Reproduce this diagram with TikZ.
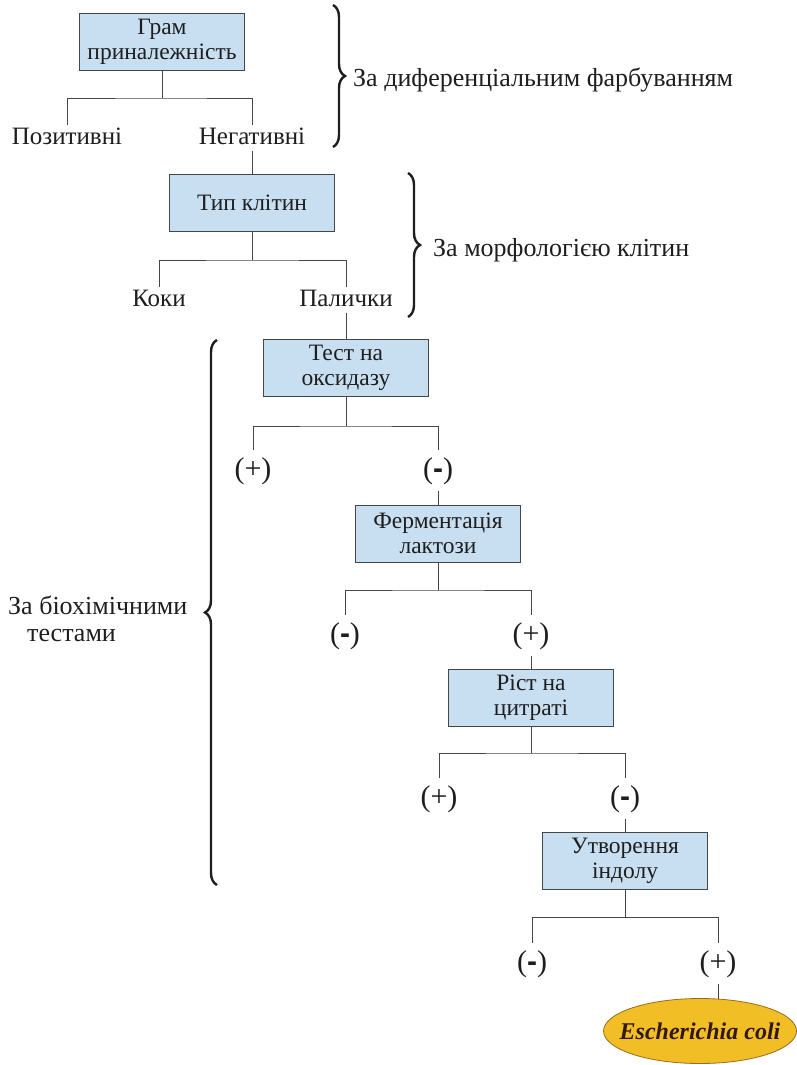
\documentclass[tikz,border=0pt]{standalone}
\usepackage{fontspec}
\setmainfont{Liberation Serif}
\newfontfamily\sgnfont{Liberation Sans}
\usetikzlibrary{shapes.geometric,decorations.pathreplacing}
\definecolor{boxfill}{RGB}{200,223,242}
\definecolor{boxline}{RGB}{70,70,70}
\definecolor{txt}{RGB}{30,30,30}
\definecolor{ecfill}{RGB}{242,190,38}
\definecolor{ecline}{RGB}{150,110,30}
\tikzset{
  stepbox/.style={draw=boxline, fill=boxfill, line width=0.9pt, minimum width=165pt, minimum height=57pt, inner sep=0pt, align=center, text=txt, font=\fontsize{23.5}{25}\selectfont},
  leaf/.style={anchor=north, inner xsep=1pt, inner ysep=1pt, text height=18pt, text depth=6pt, text=txt, font=\fontsize{25}{27}\selectfont},
  sgn/.style={anchor=north, inner xsep=1pt, inner ysep=7pt, text height=21pt, text depth=6pt, text=txt, font=\fontsize{30}{32}\selectfont},
  conn/.style={draw=boxline, line width=0.9pt},
  brc/.style={decorate, decoration={brace, amplitude=12pt}, line width=2.4pt, draw=txt},
  side/.style={text=txt, font=\fontsize{26}{27}\selectfont, inner sep=0pt},
}
\newcommand{\mn}{({\sgnfont\bfseries -})}
\begin{document}
\begin{tikzpicture}[x=1pt,y=-1pt]
\useasboundingbox (0,0) rectangle (797,1065);
% level 1
\node[stepbox] (b1) at (162,41.5) {Грам\\приналежність};
\coordinate (j1) at (162,98);
\node[leaf] (l1a) at (67,125) {Позитивні};
\node[leaf] (l1b) at (252,125) {Негативні};
\draw[conn] (b1.south) -- (j1);
\draw[conn] (l1a.north) |- (j1) -| (l1b.north);
% level 2
\node[stepbox] (b2) at (252,203) {Тип клітин};
\draw[conn] (l1b.south) -- (b2.north);
\coordinate (j2) at (252,260);
\node[leaf] (l2a) at (159,287) {Коки};
\node[leaf] (l2b) at (346,287) {Палички};
\draw[conn] (b2.south) -- (j2);
\draw[conn] (l2a.north) |- (j2) -| (l2b.north);
% level 3
\node[stepbox] (b3) at (346,368) {Тест на\\оксидазу};
\draw[conn] (l2b.south) -- (b3.north);
\coordinate (j3) at (346,426);
\node[sgn] (l3a) at (253,450) {(+)};
\node[sgn] (l3b) at (438,450) {\mn};
\draw[conn] (b3.south) -- (j3);
\draw[conn] (l3a.north) |- (j3) -| (l3b.north);
% level 4
\node[stepbox] (b4) at (438,533.5) {Ферментація\\лактози};
\draw[conn] (l3b.south) -- (b4.north);
\coordinate (j4) at (438,590);
\node[sgn] (l4a) at (345,615) {\mn};
\node[sgn] (l4b) at (531,615) {(+)};
\draw[conn] (b4.south) -- (j4);
\draw[conn] (l4a.north) |- (j4) -| (l4b.north);
% level 5
\node[stepbox] (b5) at (531,698) {Ріст на\\цитраті};
\draw[conn] (l4b.south) -- (b5.north);
\coordinate (j5) at (531,753);
\node[sgn] (l5a) at (439,778) {(+)};
\node[sgn] (l5b) at (625,778) {\mn};
\draw[conn] (b5.south) -- (j5);
\draw[conn] (l5a.north) |- (j5) -| (l5b.north);
% level 6
\node[stepbox] (b6) at (625,860.5) {Утворення\\індолу};
\draw[conn] (l5b.south) -- (b6.north);
\coordinate (j6) at (625,917);
\node[sgn] (l6a) at (532,943) {\mn};
\node[sgn] (l6b) at (718,943) {(+)};
\draw[conn] (b6.south) -- (j6);
\draw[conn] (l6a.north) |- (j6) -| (l6b.north);
% result
\node[ellipse, draw=ecline, fill=ecfill, line width=0.8pt, minimum width=193pt, minimum height=65pt, inner sep=0pt] (ec) at (700,1031) {};
\node[inner sep=0pt, text={rgb,255:red,50;green,25;blue,15}, font=\fontsize{24}{26}\selectfont\bfseries\itshape] (ectxt) at (ec.center) {Escherichia coli};
\coordinate (ect) at (718,999);
\draw[conn] (l6b.south) -- (ect);
% braces
\coordinate (br1t) at (333,5);
\coordinate (br1b) at (333,147);
\draw[brc] (br1t) -- (br1b);
\node[side, anchor=west] (s1) at (353,80) {За диференціальним фарбуванням};
\coordinate (br2t) at (408,173);
\coordinate (br2b) at (408,317);
\draw[brc] (br2t) -- (br2b);
\node[side, anchor=west] (s2) at (433,250) {За морфологією клітин};
\coordinate (br3b) at (217,885);
\coordinate (br3t) at (217,340);
\draw[brc] (br3b) -- (br3t);
\node[side, anchor=north west, align=left, font=\fontsize{26}{27}\selectfont] (s3) at (8,596) {За біохімічними\\\hspace{19pt}тестами};
\end{tikzpicture}
\end{document}
